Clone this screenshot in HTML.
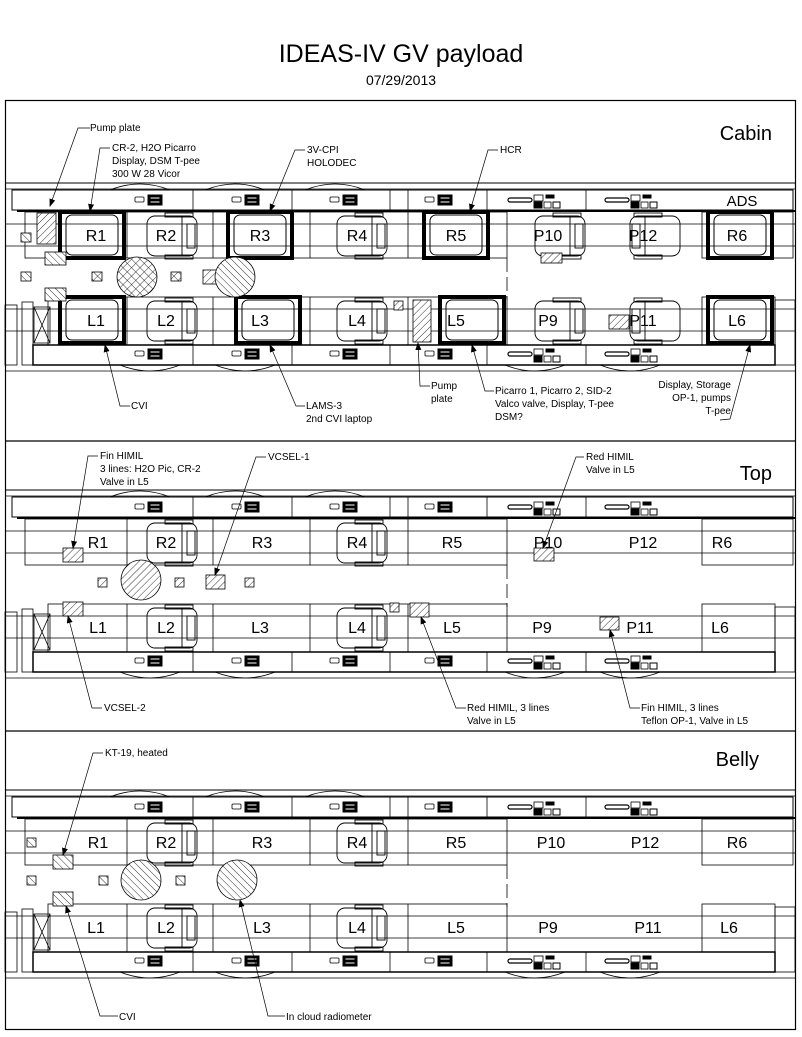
<!DOCTYPE html>
<html><head><meta charset="utf-8"><style>
html,body{margin:0;padding:0;background:#fff;}
svg{display:block;font-family:"Liberation Sans",Arial,sans-serif;}
</style></head><body>
<svg width="802" height="1037" viewBox="0 0 802 1037" xmlns="http://www.w3.org/2000/svg">
<defs>
<marker id="ar" markerWidth="8" markerHeight="6" refX="7" refY="3" orient="auto" markerUnits="userSpaceOnUse"><path d="M0,0 L8,3 L0,6 z" fill="#000"/></marker>
<pattern id="h1" width="5" height="5" patternUnits="userSpaceOnUse" patternTransform="rotate(45)"><rect width="5" height="5" fill="#fff"/><line x1="0" y1="0" x2="0" y2="5" stroke="#000" stroke-width="0.8"/></pattern>
<pattern id="h2" width="5" height="5" patternUnits="userSpaceOnUse" patternTransform="rotate(-45)"><rect width="5" height="5" fill="#fff"/><line x1="0" y1="0" x2="0" y2="5" stroke="#000" stroke-width="0.8"/></pattern>
<pattern id="hx" width="6" height="6" patternUnits="userSpaceOnUse" patternTransform="rotate(45)"><rect width="6" height="6" fill="#fff"/><line x1="0" y1="0" x2="0" y2="6" stroke="#000" stroke-width="0.8"/><line x1="0" y1="0" x2="6" y2="0" stroke="#000" stroke-width="0.8"/></pattern>
<g id="ic"><rect x="0" y="2" width="9" height="5" fill="#fff" stroke="#000" stroke-width="0.8" rx="1"/><rect x="13" y="0" width="14" height="10" fill="#000"/><rect x="15" y="2" width="10" height="2" fill="#fff"/><rect x="15" y="6" width="10" height="2" fill="#fff"/></g>
<g id="ic2"><rect x="0" y="3" width="24" height="4" rx="2" fill="#fff" stroke="#000" stroke-width="1.2"/><rect x="26" y="0" width="9" height="6" fill="#fff" stroke="#000" stroke-width="0.8"/><rect x="38" y="0" width="8" height="3" fill="#000"/><rect x="26" y="7" width="8" height="6" fill="#000"/><rect x="36" y="7" width="7" height="6" fill="#fff" stroke="#000" stroke-width="0.8"/><rect x="45" y="7" width="7" height="6" fill="#fff" stroke="#000" stroke-width="1"/></g>
<g id="fus" fill="none" stroke="#000">
 <line x1="5" y1="183" x2="795" y2="183" stroke-width="1"/>
 <line x1="5" y1="189" x2="795" y2="189" stroke-width="0.8"/>
 <rect x="12" y="190" width="781" height="20" stroke-width="1"/>
 <line x1="17" y1="211" x2="795" y2="211" stroke-width="2"/>
 <g stroke-width="0.8">
 <line x1="193" y1="190" x2="193" y2="210"/><line x1="292" y1="190" x2="292" y2="210"/><line x1="390" y1="190" x2="390" y2="210"/><line x1="487" y1="190" x2="487" y2="210"/><line x1="586" y1="190" x2="586" y2="210"/><line x1="408" y1="190" x2="408" y2="210"/>
 <rect x="25" y="212" width="482" height="46"/>
 <line x1="127" y1="212" x2="127" y2="258"/><line x1="213" y1="212" x2="213" y2="258"/><line x1="310" y1="212" x2="310" y2="258"/><line x1="408" y1="212" x2="408" y2="258"/>
 <rect x="702" y="212" width="91" height="46"/>
 <line x1="5" y1="224" x2="795" y2="224"/><line x1="5" y1="246" x2="795" y2="246"/>
 <line x1="507" y1="258" x2="507" y2="300" stroke-dasharray="14,5"/>
 <rect x="48" y="297" width="459" height="48"/>
 <line x1="127" y1="297" x2="127" y2="345"/><line x1="213" y1="297" x2="213" y2="345"/><line x1="310" y1="297" x2="310" y2="345"/><line x1="408" y1="297" x2="408" y2="345"/>
 <rect x="702" y="297" width="73" height="48"/>
 <line x1="5" y1="309" x2="795" y2="309"/><line x1="5" y1="331" x2="795" y2="331"/>
 </g>
 <rect x="33" y="345" width="742" height="20" stroke-width="1.5"/>
 <g stroke-width="0.8"><line x1="193" y1="345" x2="193" y2="365"/><line x1="292" y1="345" x2="292" y2="365"/><line x1="390" y1="345" x2="390" y2="365"/><line x1="487" y1="345" x2="487" y2="365"/><line x1="586" y1="345" x2="586" y2="365"/>
 <line x1="5" y1="371" x2="795" y2="371"/>
 <rect x="22" y="302" width="11" height="63"/><rect x="34" y="307" width="16" height="36"/><line x1="34" y1="307" x2="50" y2="343"/><line x1="50" y1="307" x2="34" y2="343"/>
 <rect x="5" y="305" width="12" height="60"/>
 <rect x="775" y="300" width="20" height="65"/>
 <path d="M110 190 Q140 178 170 190 M205 190 Q235 178 265 190 M305 190 Q335 178 365 190 M120 365 Q150 377 180 365 M215 365 Q245 377 275 365 M505 365 Q535 377 565 365 M600 365 Q630 377 660 365"/>
 </g>
 <use href="#ic" x="135" y="195"/><use href="#ic" x="232" y="195"/><use href="#ic" x="330" y="195"/><use href="#ic" x="425" y="195"/>
 <use href="#ic2" x="508" y="195"/><use href="#ic2" x="605" y="195"/>
 <use href="#ic" x="135" y="349"/><use href="#ic" x="232" y="349"/><use href="#ic" x="330" y="349"/><use href="#ic" x="425" y="349"/>
 <use href="#ic2" x="508" y="349"/><use href="#ic2" x="605" y="349"/>
</g>
<g id="seat" fill="none" stroke="#000" stroke-width="0.9"><rect x="0" y="0" width="50" height="40" rx="8"/><line x1="35" y1="0" x2="35" y2="40"/><rect x="40" y="8" width="8" height="24"/><rect x="18" y="-3" width="28" height="4"/><rect x="18" y="39" width="28" height="4"/></g>
<g id="rack" fill="none" stroke="#000"><rect x="0" y="0" width="64" height="46" stroke-width="4"/><rect x="6" y="3" width="52" height="40" rx="6" stroke-width="1"/></g>
</defs>

<rect x="0" y="0" width="802" height="1037" fill="#fff"/>
<text x="401" y="62" font-size="25" text-anchor="middle">IDEAS-IV GV payload</text>
<text x="401" y="85" font-size="14" text-anchor="middle">07/29/2013</text>
<rect x="5.5" y="100.5" width="790" height="929" fill="none" stroke="#000" stroke-width="1.2"/>
<line x1="5" y1="441" x2="795" y2="441" stroke="#000" stroke-width="1.2"/>
<line x1="5" y1="731" x2="795" y2="731" stroke="#000" stroke-width="1.2"/>

<!-- CABIN -->
<use href="#fus"/>
<text x="772" y="140" font-size="20" text-anchor="end">Cabin</text>
<text x="742" y="206" font-size="15" text-anchor="middle">ADS</text>
<use href="#rack" x="60" y="212"/><use href="#rack" x="228" y="212"/><use href="#rack" x="424" y="212"/><use href="#rack" x="708" y="212"/>
<use href="#rack" x="60" y="297"/><use href="#rack" x="236" y="297"/><use href="#rack" x="440" y="297"/><use href="#rack" x="708" y="297"/>
<use href="#seat" x="147" y="216"/><use href="#seat" x="337" y="216"/><use href="#seat" x="535" y="216"/>
<g transform="translate(680 216) scale(-1 1)"><use href="#seat"/></g>
<use href="#seat" x="147" y="301"/><use href="#seat" x="337" y="301"/><use href="#seat" x="535" y="301"/>
<g transform="translate(680 301) scale(-1 1)"><use href="#seat"/></g>
<g font-size="16" text-anchor="middle">
<text x="96" y="241">R1</text><text x="166" y="241">R2</text><text x="260" y="241">R3</text><text x="357" y="241">R4</text><text x="456" y="241">R5</text><text x="548" y="241">P10</text><text x="643" y="241">P12</text><text x="737" y="241">R6</text>
<text x="96" y="326">L1</text><text x="166" y="326">L2</text><text x="260" y="326">L3</text><text x="357" y="326">L4</text><text x="456" y="326">L5</text><text x="548" y="326">P9</text><text x="643" y="326">P11</text><text x="737" y="326">L6</text>
</g>
<g stroke="#000" stroke-width="0.8">
<rect x="37" y="213" width="19" height="31" fill="url(#h1)"/>
<rect x="45" y="252" width="21" height="13" fill="url(#h2)"/>
<rect x="21" y="233" width="10" height="9" fill="url(#h2)"/>
<rect x="21" y="272" width="10" height="9" fill="url(#h2)"/>
<rect x="92" y="272" width="10" height="9" fill="url(#hx)"/>
<rect x="171" y="272" width="10" height="9" fill="url(#hx)"/>
<rect x="243" y="272" width="10" height="9" fill="url(#hx)"/>
<rect x="203" y="270" width="19" height="14" fill="url(#h1)"/>
<circle cx="137" cy="277" r="20" fill="url(#hx)"/>
<circle cx="235" cy="277" r="20" fill="url(#h2)"/>
<rect x="45" y="288" width="21" height="13" fill="url(#h2)"/>
<rect x="394" y="301" width="9" height="9" fill="url(#h1)"/>
<rect x="413" y="300" width="18" height="42" fill="url(#h1)"/>
<rect x="541" y="253" width="21" height="10" fill="url(#h1)"/>
<rect x="609" y="315" width="20" height="14" fill="url(#h1)"/>
</g>
<g fill="none" stroke="#000" stroke-width="0.7" marker-end="url(#ar)">
<polyline points="90,128 78,128 50,206"/><polyline points="110,148 100,148 90,211"/><polyline points="305,150 295,150 270,211"/><polyline points="498,150 488,150 470,211"/>
<polyline points="130,406 120,406 105,345"/><polyline points="305,406 296,406 270,345"/><polyline points="430,386 420,386 418,343"/><polyline points="494,391 485,391 472,345"/><polyline points="720,420 730,419 750,345"/>
</g>
<g font-size="10">
<text x="90" y="131">Pump plate</text>
<text x="112" y="151">CR-2, H2O Picarro</text><text x="112" y="164">Display, DSM T-pee</text><text x="112" y="177">300 W 28 Vicor</text>
<text x="307" y="153">3V-CPI</text><text x="307" y="166">HOLODEC</text>
<text x="500" y="153">HCR</text>
<text x="131" y="409">CVI</text>
<text x="306" y="409">LAMS-3</text><text x="306" y="422">2nd CVI laptop</text>
<text x="431" y="389">Pump</text><text x="431" y="402">plate</text>
<text x="495" y="394">Picarro 1, Picarro 2, SID-2</text><text x="495" y="407">Valco valve, Display, T-pee</text><text x="495" y="420">DSM?</text>
<text x="731" y="388" text-anchor="end">Display, Storage</text><text x="731" y="401" text-anchor="end">OP-1, pumps</text><text x="731" y="414" text-anchor="end">T-pee</text>
</g>

<!-- TOP -->
<use href="#fus" y="307"/>
<text x="772" y="480" font-size="20" text-anchor="end">Top</text>
<use href="#seat" x="147" y="523"/><use href="#seat" x="337" y="523"/>
<use href="#seat" x="147" y="608"/><use href="#seat" x="337" y="608"/>
<g font-size="16" text-anchor="middle">
<text x="98" y="548">R1</text><text x="166" y="548">R2</text><text x="262" y="548">R3</text><text x="357" y="548">R4</text><text x="452" y="548">R5</text><text x="548" y="548">P10</text><text x="643" y="548">P12</text><text x="722" y="548">R6</text>
<text x="98" y="633">L1</text><text x="166" y="633">L2</text><text x="260" y="633">L3</text><text x="357" y="633">L4</text><text x="452" y="633">L5</text><text x="542" y="633">P9</text><text x="640" y="633">P11</text><text x="720" y="633">L6</text>
</g>
<g stroke="#000" stroke-width="0.8">
<rect x="63" y="548" width="20" height="14" fill="url(#h1)"/>
<rect x="98" y="578" width="9" height="9" fill="url(#h1)"/><rect x="175" y="578" width="9" height="9" fill="url(#h1)"/><rect x="245" y="578" width="9" height="9" fill="url(#h1)"/>
<rect x="206" y="575" width="19" height="14" fill="url(#h1)"/>
<circle cx="141" cy="580" r="20" fill="url(#h1)"/>
<rect x="63" y="602" width="20" height="14" fill="url(#h1)"/>
<rect x="390" y="603" width="9" height="9" fill="url(#h1)"/>
<rect x="410" y="603" width="19" height="14" fill="url(#h1)"/>
<rect x="534" y="548" width="20" height="13" fill="url(#h1)"/>
<rect x="600" y="617" width="19" height="13" fill="url(#h1)"/>
</g>
<g fill="none" stroke="#000" stroke-width="0.7" marker-end="url(#ar)">
<polyline points="98,456 88,456 73,548"/><polyline points="266,457 256,457 215,575"/><polyline points="584,457 576,457 543,548"/>
<polyline points="102,708 92,708 68,616"/><polyline points="466,708 456,708 421,617"/><polyline points="640,708 630,708 610,630"/>
</g>
<g font-size="10">
<text x="100" y="459">Fin HIMIL</text><text x="100" y="472">3 lines: H2O Pic, CR-2</text><text x="100" y="485">Valve in L5</text>
<text x="268" y="460">VCSEL-1</text>
<text x="586" y="460">Red HIMIL</text><text x="586" y="473">Valve in L5</text>
<text x="104" y="711">VCSEL-2</text>
<text x="467" y="711">Red HIMIL, 3 lines</text><text x="467" y="724">Valve in L5</text>
<text x="641" y="711">Fin HIMIL, 3 lines</text><text x="641" y="724">Teflon OP-1, Valve in L5</text>
</g>

<!-- BELLY -->
<use href="#fus" y="607"/>
<text x="759" y="766" font-size="20" text-anchor="end">Belly</text>
<use href="#seat" x="147" y="823"/><use href="#seat" x="337" y="823"/>
<use href="#seat" x="147" y="908"/><use href="#seat" x="337" y="908"/>
<g font-size="16" text-anchor="middle">
<text x="98" y="848">R1</text><text x="166" y="848">R2</text><text x="262" y="848">R3</text><text x="357" y="848">R4</text><text x="456" y="848">R5</text><text x="551" y="848">P10</text><text x="645" y="848">P12</text><text x="737" y="848">R6</text>
<text x="96" y="933">L1</text><text x="166" y="933">L2</text><text x="262" y="933">L3</text><text x="357" y="933">L4</text><text x="456" y="933">L5</text><text x="548" y="933">P9</text><text x="648" y="933">P11</text><text x="729" y="933">L6</text>
</g>
<g stroke="#000" stroke-width="0.8">
<rect x="27" y="838" width="9" height="9" fill="url(#h2)"/>
<rect x="53" y="855" width="20" height="14" fill="url(#h2)"/>
<rect x="27" y="876" width="9" height="9" fill="url(#h2)"/><rect x="99" y="876" width="9" height="9" fill="url(#h2)"/><rect x="176" y="876" width="9" height="9" fill="url(#h2)"/>
<circle cx="141" cy="880" r="20" fill="url(#h2)"/><circle cx="237" cy="880" r="20" fill="url(#h2)"/>
<rect x="53" y="892" width="20" height="14" fill="url(#h2)"/>
</g>
<g fill="none" stroke="#000" stroke-width="0.7" marker-end="url(#ar)">
<polyline points="103,753 93,753 63,855"/><polyline points="118,1016 100,1016 66,906"/><polyline points="285,1016 268,1016 240,900"/>
</g>
<g font-size="10">
<text x="105" y="756">KT-19, heated</text>
<text x="119" y="1020">CVI</text>
<text x="286" y="1020">In cloud radiometer</text>
</g>
</svg>
</body></html>
